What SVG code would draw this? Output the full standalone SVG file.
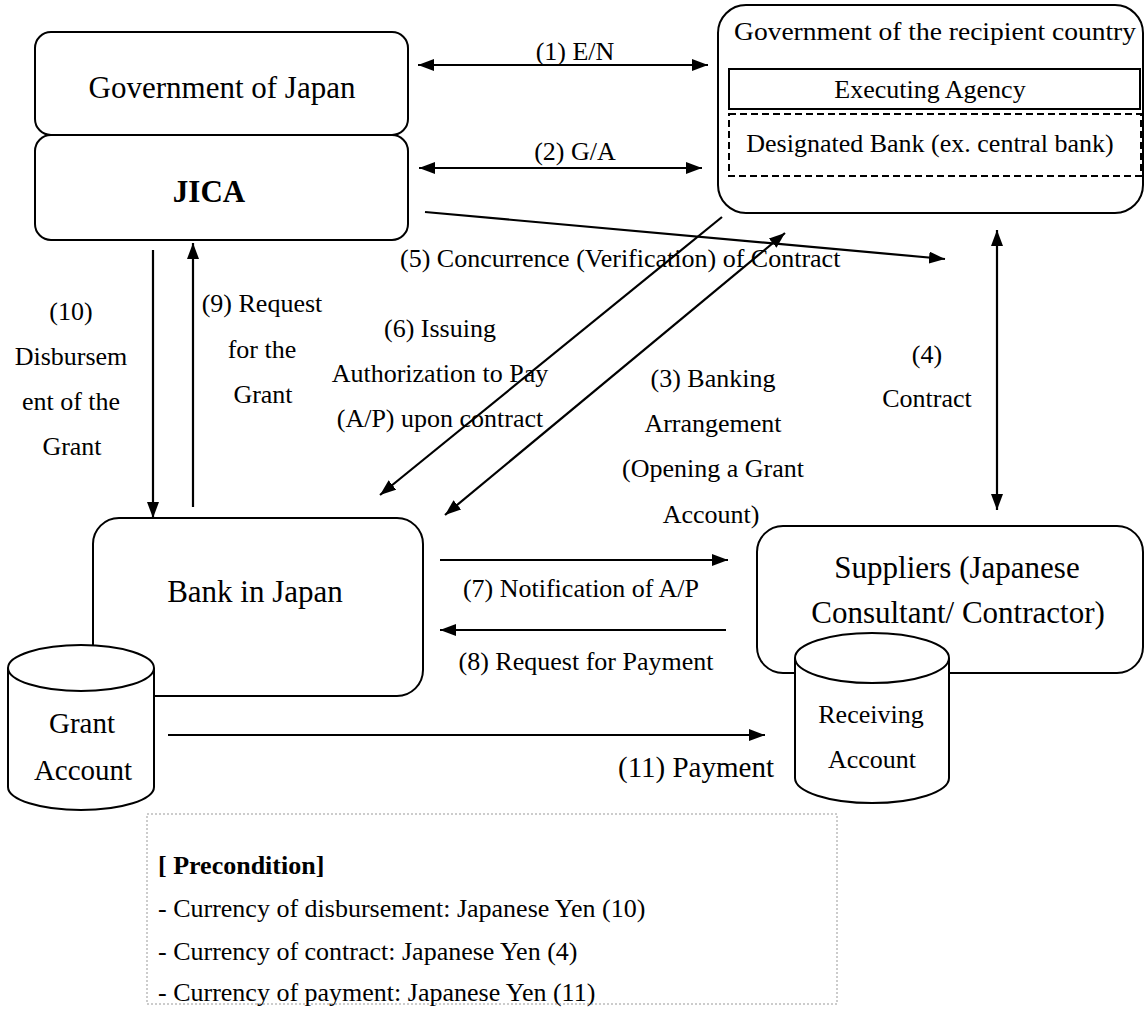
<svg xmlns="http://www.w3.org/2000/svg" width="1146" height="1014" viewBox="0 0 1146 1014">
<style>
text{font-family:"Liberation Serif","Times New Roman",serif;fill:#000}
.lb{font-size:26px}
.tt{font-size:31px}
.ctr{text-anchor:middle}
.box{fill:#fff;stroke:#000;stroke-width:2}
.ln{stroke:#000;stroke-width:2.2;fill:none}
</style>
<defs>
<marker id="ah" markerUnits="userSpaceOnUse" markerWidth="16" markerHeight="12" refX="16" refY="6" orient="auto-start-reverse" viewBox="0 0 16 12">
<path d="M0,0 L16,6 L0,12 z" fill="#000"/>
</marker>
</defs>
<rect width="1146" height="1014" fill="#fff"/>

<g id="gov-japan">
<rect class="box" x="35" y="32" width="373" height="103" rx="16"/>
<text class="tt ctr" x="222" y="98">Government of Japan</text>
</g>
<g id="jica">
<rect class="box" x="35" y="135" width="373" height="105" rx="16"/>
<text class="tt ctr" x="209" y="202" font-weight="bold">JICA</text>
</g>

<g id="recipient">
<rect class="box" x="718" y="5" width="425" height="208" rx="28"/>
<text class="lb" x="734" y="40" textLength="402" lengthAdjust="spacingAndGlyphs">Government of the recipient country</text>
<g id="executing-agency">
<rect x="729" y="69" width="411" height="40" fill="none" stroke="#000" stroke-width="2"/>
<text class="lb ctr" x="930" y="98">Executing Agency</text>
</g>
<g id="designated-bank">
<rect x="729" y="114" width="412" height="62" fill="none" stroke="#000" stroke-width="2" stroke-dasharray="7 4"/>
<text class="lb ctr" x="930" y="152">Designated Bank (ex. central bank)</text>
</g>
</g>

<g id="bank-japan">
<rect class="box" x="93" y="518" width="330" height="178" rx="26"/>
<text class="tt ctr" x="255" y="602">Bank in Japan</text>
</g>
<g id="grant-account">
<path class="box" d="M8,668 A73,23 0 0 1 154,668 L154,787 A73,23 0 0 1 8,787 Z"/>
<path d="M8,668 A73,23 0 0 0 154,668" fill="none" stroke="#000" stroke-width="2"/>
<text class="tt ctr" x="82" y="733" style="font-size:29px">Grant</text>
<text class="tt ctr" x="83" y="780" style="font-size:29px">Account</text>
</g>

<g id="suppliers">
<rect class="box" x="757" y="526" width="386" height="147" rx="26"/>
<text class="tt ctr" x="957" y="578">Suppliers (Japanese</text>
<text class="tt ctr" x="958" y="623">Consultant/ Contractor)</text>
</g>
<g id="receiving-account">
<path class="box" d="M795,658 A77,25 0 0 1 949,658 L949,778 A77,25 0 0 1 795,778 Z"/>
<path d="M795,658 A77,25 0 0 0 949,658" fill="none" stroke="#000" stroke-width="2"/>
<text class="lb ctr" x="871" y="723">Receiving</text>
<text class="lb ctr" x="872" y="768">Account</text>
</g>

<g id="connectors">
<line class="ln" x1="418" y1="65" x2="708" y2="65" marker-start="url(#ah)" marker-end="url(#ah)"/>
<line class="ln" x1="419" y1="168" x2="702" y2="168" marker-start="url(#ah)" marker-end="url(#ah)"/>
<line class="ln" x1="425" y1="212" x2="945" y2="259" marker-end="url(#ah)"/>
<line class="ln" x1="722" y1="217" x2="380" y2="495" marker-end="url(#ah)"/>
<line class="ln" x1="785" y1="233" x2="445" y2="515" marker-start="url(#ah)" marker-end="url(#ah)"/>
<line class="ln" x1="997" y1="230" x2="997" y2="510" marker-start="url(#ah)" marker-end="url(#ah)"/>
<line class="ln" x1="153" y1="250" x2="153" y2="518" marker-end="url(#ah)"/>
<line class="ln" x1="193" y1="507" x2="193" y2="243" marker-end="url(#ah)"/>
<line class="ln" x1="440" y1="560" x2="728" y2="560" marker-end="url(#ah)"/>
<line class="ln" x1="726" y1="630" x2="440" y2="630" marker-end="url(#ah)"/>
<line class="ln" x1="168" y1="735" x2="765" y2="735" marker-end="url(#ah)"/>
</g>

<g id="labels">
<text class="lb ctr" x="575" y="60">(1) E/N</text>
<text class="lb ctr" x="575" y="160">(2) G/A</text>
<text class="lb" x="400" y="267">(5) Concurrence (Verification) of Contract</text>
<text class="lb ctr" x="440" y="337">(6) Issuing</text>
<text class="lb ctr" x="440" y="382">Authorization to Pay</text>
<text class="lb ctr" x="440" y="427">(A/P) upon contract</text>
<text class="lb ctr" x="713" y="387">(3) Banking</text>
<text class="lb ctr" x="713" y="432">Arrangement</text>
<text class="lb ctr" x="713" y="477">(Opening a Grant</text>
<text class="lb ctr" x="711" y="523">Account)</text>
<text class="lb ctr" x="927" y="363">(4)</text>
<text class="lb ctr" x="927" y="407">Contract</text>
<text class="lb ctr" x="71" y="320">(10)</text>
<text class="lb ctr" x="71" y="365">Disbursem</text>
<text class="lb ctr" x="71" y="410">ent of the</text>
<text class="lb ctr" x="72" y="455">Grant</text>
<text class="lb ctr" x="262" y="312">(9) Request</text>
<text class="lb ctr" x="262" y="358">for the</text>
<text class="lb ctr" x="263" y="403">Grant</text>
<text class="lb ctr" x="581" y="597">(7) Notification of A/P</text>
<text class="lb ctr" x="586" y="670">(8) Request for Payment</text>
<text class="lb" x="618" y="777" style="font-size:29px">(11) Payment</text>
</g>

<g id="precondition">
<rect x="147" y="814" width="690" height="190" fill="none" stroke="#999" stroke-width="1" stroke-dasharray="2 2"/>
<text class="lb" x="158" y="874" font-weight="bold">[ Precondition]</text>
<text class="lb" x="158" y="917">- Currency of disbursement: Japanese Yen (10)</text>
<text class="lb" x="158" y="960">- Currency of contract: Japanese Yen (4)</text>
<text class="lb" x="158" y="1001">- Currency of payment: Japanese Yen (11)</text>
</g>
</svg>
